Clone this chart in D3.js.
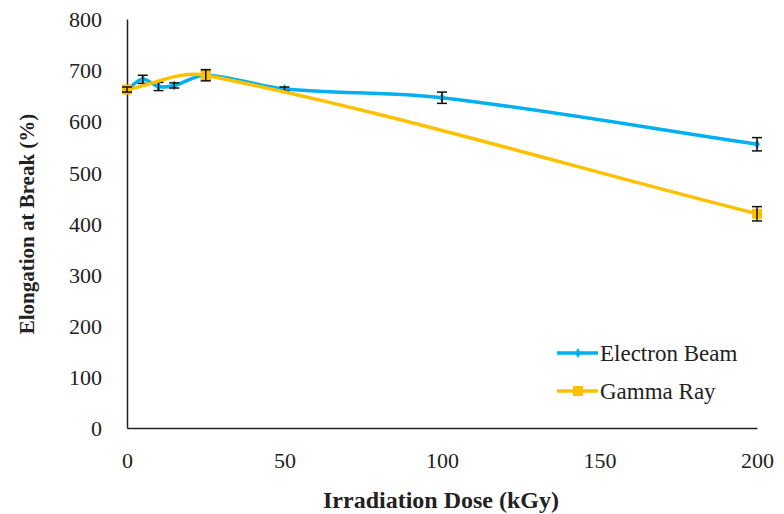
<!DOCTYPE html>
<html>
<head>
<meta charset="utf-8">
<script src="https://cdn.jsdelivr.net/npm/d3@7"></script>
<style>
  body { margin: 0; background: #fff; }
  text { font-family: "Liberation Serif", "Times New Roman", serif; }
</style>
</head>
<body>
<svg id="chart"></svg>
<script>
// data
const ebDose = [0, 5, 10, 15, 25, 50, 100, 200];
const ebElong = [662, 682, 668, 670, 690, 663, 646, 555];
const ebErr = [6, 8, 8, 5, 9, 4, 11, 13];

const grDose = [0, 25, 200];
const grElong = [662, 690, 419];
const grErr = [5, 11, 14];

const xTicks = [0, 50, 100, 150, 200];
const yTicks = [0, 100, 200, 300, 400, 500, 600, 700, 800];

const seriesNames = ["Electron Beam", "Gamma Ray"];
const seriesColors = ["#00B0F0", "#FFC000"];

const W = 784, H = 514;
const margin = { top: 19, right: 27, bottom: 86, left: 127 };
const width = W - margin.left - margin.right;
const height = H - margin.top - margin.bottom;

const svg = d3.select("#chart").attr("width", W).attr("height", H);
const g = svg.append("g").attr("transform", `translate(${margin.left},${margin.top})`);

const xscale = d3.scaleLinear().domain([0, 200]).range([0, width]);
const yscale = d3.scaleLinear().domain([0, 800]).range([height, 0]);

// axes (no tick marks, just the lines and labels)
const xaxis = d3.axisBottom(xscale).tickValues(xTicks).tickSize(0).tickPadding(24);
const yaxis = d3.axisLeft(yscale).tickValues(yTicks).tickSize(0).tickPadding(25);

const gx = g.append("g").attr("transform", `translate(0,${height})`).call(xaxis);
const gy = g.append("g").call(yaxis);
[gx, gy].forEach((a) => {
  a.select(".domain").attr("stroke", "#222").attr("stroke-width", 1.5);
  a.selectAll("text").attr("font-size", 22).attr("fill", "#222")
    .style("font-family", "Liberation Serif");
});
gy.selectAll("text").attr("dy", "0.35em");

// axis titles
svg.append("text")
  .attr("x", margin.left + width / 2 - 1)
  .attr("y", 508)
  .attr("text-anchor", "middle")
  .attr("font-size", 24)
  .attr("font-weight", "bold")
  .attr("fill", "#222")
  .text("Irradiation Dose (kGy)");

svg.append("text")
  .attr("transform", `translate(34,${margin.top + 205}) rotate(-90)`)
  .attr("text-anchor", "middle")
  .attr("font-size", 21)
  .attr("font-weight", "bold")
  .attr("fill", "#222")
  .text("Elongation at Break (%)");

const series = [
  { x: ebDose, y: ebElong, e: ebErr, name: seriesNames[0], color: seriesColors[0], marker: "diamond" },
  { x: grDose, y: grElong, e: grErr, name: seriesNames[1], color: seriesColors[1], marker: "square" },
];

// spreadsheet-style smoothed line: bezier arms along (P[i+1]-P[i-1]),
// split by the lengths of the two neighbouring segments
function smoothPath(pts) {
  const p = pts.map((d) => [xscale(d[0]), yscale(d[1])]);
  const n = p.length;
  const dist = (a, b) => Math.hypot(b[0] - a[0], b[1] - a[1]);
  const k = 1 / 3;
  const path = d3.path();
  path.moveTo(p[0][0], p[0][1]);
  for (let i = 0; i < n - 1; i++) {
    const a = p[i], b = p[i + 1];
    const aPrev = p[Math.max(i - 1, 0)], bNext = p[Math.min(i + 2, n - 1)];
    const dA0 = dist(aPrev, a), dAB = dist(a, b), dB1 = dist(b, bNext);
    const fa = k * dAB / (dA0 + dAB);
    const fb = k * dAB / (dAB + dB1);
    const c1 = [a[0] + (b[0] - aPrev[0]) * fa, a[1] + (b[1] - aPrev[1]) * fa];
    const c2 = [b[0] - (bNext[0] - a[0]) * fb, b[1] - (bNext[1] - a[1]) * fb];
    path.bezierCurveTo(c1[0], c1[1], c2[0], c2[1], b[0], b[1]);
  }
  return path.toString();
}

series.forEach((s) => {
  const pts = s.x.map((x, j) => [x, s.y[j], s.e[j]]);

  g.append("path")
    .attr("d", smoothPath(pts))
    .attr("fill", "none")
    .attr("stroke", s.color)
    .attr("stroke-width", 3.5);

  // markers
  if (s.marker === "square") {
    g.selectAll(null).data(pts).join("rect")
      .attr("x", (d) => xscale(d[0]) - 5)
      .attr("y", (d) => yscale(d[1]) - 5)
      .attr("width", 10).attr("height", 10)
      .attr("fill", s.color);
  } else {
    g.selectAll(null).data(pts).join("path")
      .attr("d", d3.symbol(d3.symbolDiamond, 30))
      .attr("transform", (d) => `translate(${xscale(d[0])},${yscale(d[1])})`)
      .attr("fill", s.color);
  }

  // error bars
  const eb = g.selectAll(null).data(pts).join("g").attr("stroke", "#111").attr("stroke-width", 1.5);
  eb.append("line")
    .attr("x1", (d) => xscale(d[0])).attr("x2", (d) => xscale(d[0]))
    .attr("y1", (d) => yscale(d[1] - d[2])).attr("y2", (d) => yscale(d[1] + d[2]));
  eb.append("line")
    .attr("x1", (d) => xscale(d[0]) - 5).attr("x2", (d) => xscale(d[0]) + 5)
    .attr("y1", (d) => yscale(d[1] + d[2])).attr("y2", (d) => yscale(d[1] + d[2]));
  eb.append("line")
    .attr("x1", (d) => xscale(d[0]) - 5).attr("x2", (d) => xscale(d[0]) + 5)
    .attr("y1", (d) => yscale(d[1] - d[2])).attr("y2", (d) => yscale(d[1] - d[2]));
});

// legend
const legend = svg.append("g").attr("transform", "translate(557,353)");
series.forEach((s, i) => {
  const row = legend.append("g").attr("transform", `translate(0,${i * 38})`);
  row.append("line").attr("x1", 0).attr("x2", 41).attr("y1", 0).attr("y2", 0)
    .attr("stroke", s.color).attr("stroke-width", 3.5);
  if (s.marker === "square") {
    row.append("rect").attr("x", 16).attr("y", -5).attr("width", 10).attr("height", 10).attr("fill", s.color);
  } else {
    row.append("path").attr("d", d3.symbol(d3.symbolDiamond, 30))
      .attr("transform", "translate(21,0)").attr("fill", s.color);
  }
  row.append("text").attr("x", 43).attr("y", 0).attr("dy", "0.35em")
    .attr("font-size", 23).attr("fill", "#222").text(s.name);
});
</script>
</body>
</html>
